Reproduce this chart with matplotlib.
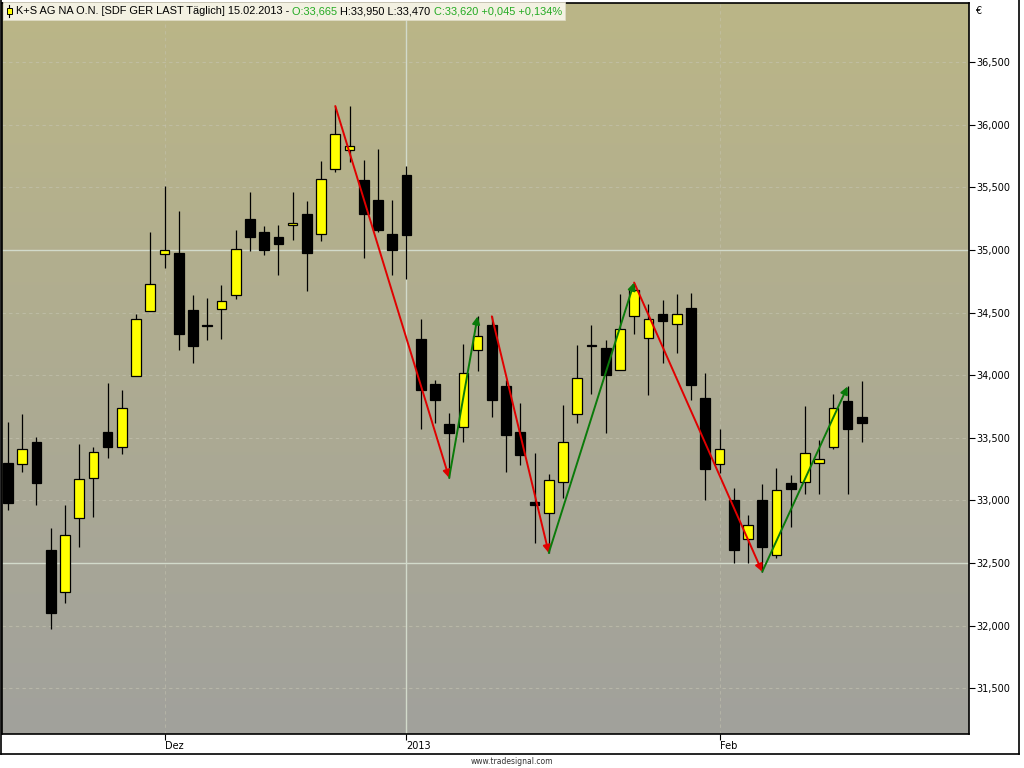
import numpy as np
import matplotlib.pyplot as plt
from matplotlib.patches import Rectangle
from matplotlib.lines import Line2D

# daily candles, K+S AG, 16.11.2012 .. 15.02.2013
opens = [33.30, 33.29, 33.47, 32.60, 32.27, 32.86, 33.18, 33.55, 33.43, 33.99,
         34.51, 34.97, 34.98, 34.52, 34.40, 34.53, 34.64, 35.25, 35.14, 35.10,
         35.20, 35.29, 35.13, 35.65, 35.80, 35.56, 35.40, 35.13, 35.60, 34.29,
         33.93, 33.61, 33.59, 34.20, 34.40, 33.91, 33.55, 32.99, 32.90, 33.15,
         33.69, 34.24, 34.22, 34.04, 34.47, 34.30, 34.49, 34.41, 34.54, 33.82,
         33.29, 33.00, 32.69, 33.00, 32.56, 33.14, 33.15, 33.30, 33.43, 33.79,
         33.665]
highs = [33.63, 33.69, 33.51, 32.78, 32.96, 33.45, 33.43, 33.94, 33.88, 34.49,
         35.14, 35.51, 35.31, 34.64, 34.62, 34.72, 35.16, 35.46, 35.19, 35.20,
         35.46, 35.39, 35.71, 36.15, 36.15, 35.72, 35.81, 35.40, 35.67, 34.45,
         33.96, 33.70, 34.25, 34.47, 34.47, 33.96, 33.78, 33.38, 33.21, 33.76,
         34.24, 34.40, 34.28, 34.65, 34.74, 34.57, 34.60, 34.65, 34.66, 34.02,
         33.57, 33.10, 32.88, 33.13, 33.26, 33.20, 33.75, 33.48, 33.85, 33.91,
         33.95]
lows = [32.92, 33.23, 32.96, 31.97, 32.18, 32.63, 32.87, 33.34, 33.37, 33.99,
        34.51, 34.86, 34.20, 34.10, 34.28, 34.29, 34.61, 34.99, 34.96, 34.80,
        35.08, 34.67, 35.07, 35.62, 35.70, 34.94, 35.14, 34.80, 34.77, 33.57,
        33.62, 33.18, 33.47, 34.03, 33.67, 33.23, 33.28, 32.66, 32.58, 33.02,
        33.62, 33.85, 33.54, 34.04, 34.33, 33.84, 34.10, 34.18, 33.80, 33.00,
        33.22, 32.50, 32.50, 32.43, 32.54, 32.79, 33.05, 33.05, 33.41, 33.05,
        33.47]
closes = [32.98, 33.41, 33.14, 32.10, 32.72, 33.17, 33.39, 33.43, 33.74, 34.45,
          34.73, 35.00, 34.33, 34.23, 34.39, 34.59, 35.01, 35.10, 35.00, 35.05,
          35.20, 34.98, 35.57, 35.93, 35.83, 35.29, 35.16, 35.00, 35.12, 33.88,
          33.80, 33.54, 34.02, 34.31, 33.80, 33.52, 33.36, 32.96, 33.16, 33.47,
          33.98, 34.23, 34.00, 34.37, 34.68, 34.45, 34.43, 34.49, 33.92, 33.25,
          33.41, 32.60, 32.80, 32.63, 33.08, 33.09, 33.38, 33.33, 33.74, 33.57,
          33.62]

# zigzag arrows: (from bar, to bar), red = down, green = up
down_legs = [(23, 31), (34, 38), (44, 53)]
up_legs = [(31, 33), (38, 44), (53, 59)]

tick_idx = [11, 28, 50]
tick_labels = ['Dez', '2013', 'Feb']
price_ticks = [31.5, 32.0, 32.5, 33.0, 33.5, 34.0, 34.5, 35.0, 35.5, 36.0, 36.5]

W, H = 1024, 768
fig = plt.figure(figsize=(W / 100, H / 100), dpi=100, facecolor='white')
ax = fig.add_axes([2 / W, 1 - 734 / H, 967 / W, 731 / H])

# gradient background
grad = np.linspace(0, 1, 256).reshape(-1, 1)
top = np.array([187, 182, 135]) / 255
bot = np.array([161, 161, 156]) / 255
img = top + (bot - top) * grad[..., None]
ax.imshow(img, extent=[0, 1, 0, 1], transform=ax.transAxes, aspect='auto', zorder=0)

n = len(opens)
ax.set_xlim(-0.42, 67.53)
ax.set_ylim(31.134, 36.973)

# grid
for p in price_ticks:
    if p in (35.0, 32.5):
        ax.axhline(p, color='#d2dacb', lw=1, zorder=1)
    else:
        ax.axhline(p, color='#c6c5b2', lw=0.8, ls=(0, (3, 3)), zorder=1, alpha=0.6)
for i, lab in zip(tick_idx, tick_labels):
    if lab == '2013':
        ax.axvline(i, color='#d2dacb', lw=1, zorder=1)
    else:
        ax.axvline(i, color='#c6c5b2', lw=0.8, ls=(0, (3, 3)), zorder=1, alpha=0.5)

# candles
w = 0.68
for i in range(n):
    o, h, l, c = opens[i], highs[i], lows[i], closes[i]
    up = c >= o
    ax.vlines(i, l, h, color='black', lw=0.9, zorder=3)
    lo_b = min(o, c)
    hb = max(abs(c - o), 0.012)
    ax.add_patch(Rectangle((i - w / 2, lo_b), w, hb,
                           facecolor='#ffff00' if up else 'black',
                           edgecolor='black', lw=0.9, zorder=4))

# zigzag arrows
def leg(a, b, col, start_high):
    y0 = highs[a] if start_high else lows[a]
    y1 = lows[b] if start_high else highs[b]
    ax.annotate('', xy=(b, y1), xytext=(a, y0),
                arrowprops=dict(arrowstyle='-|>', color=col, lw=1.4,
                                mutation_scale=11, shrinkA=0, shrinkB=0),
                zorder=5)

for a, b in down_legs:
    leg(a, b, '#e00000', True)
for a, b in up_legs:
    leg(a, b, '#0a7a0a', False)

# axes styling
for s in ax.spines.values():
    s.set_color('black')
    s.set_linewidth(1.2)
ax.yaxis.tick_right()
ax.set_yticks(price_ticks)
ax.set_yticklabels([('%.3f' % p).replace('.', ',') for p in price_ticks])
ax.tick_params(axis='y', direction='out', length=4, width=0.8, pad=1, labelsize=7)
ax.set_xticks(tick_idx)
ax.set_xticklabels(tick_labels)
ax.tick_params(axis='x', direction='out', length=4, width=0.8, pad=1, labelsize=7)
for t in ax.get_xticklabels():
    t.set_horizontalalignment('left')

fig.text(975 / W, 1 - 11 / H, '€', fontsize=7, va='center', ha='left')

# outer frame
fig.add_artist(Line2D([1 / W, 1 / W], [1, 1 - 754 / H], color='black', lw=1.2))
fig.add_artist(Line2D([1 / W, 1019 / W], [1 - 754 / H, 1 - 754 / H], color='black', lw=1.2))
fig.add_artist(Line2D([1019 / W, 1019 / W], [1, 1 - 754 / H], color='black', lw=1.2))

fig.text(0.5, 1 - 761 / H, 'www.tradesignal.com', fontsize=5.5, ha='center', va='center',
         color='#333333')

# header
parts = [('K+S AG NA O.N. [SDF GER LAST Täglich] 15.02.2013 - ', 'black'),
         ('O:33,665 ', '#22aa22'),
         ('H:33,950 L:33,470 ', 'black'),
         ('C:33,620 +0,045 +0,134%', '#22aa22')]
hfont = 'Liberation Sans'
fig.canvas.draw()
r = fig.canvas.get_renderer()
fs = 7.5
tmp = fig.text(0, 0, ''.join(p for p, _ in parts), fontsize=fs, family=hfont)
tw = tmp.get_window_extent(r).width
tmp.remove()
fs = fs * 544 / tw
px = 16
for s, col in parts:
    t = fig.text(px / W, 1 - 11 / H, s, color=col, fontsize=fs, family=hfont,
                 va='center', ha='left', zorder=6)
    bb = t.get_window_extent(r)
    px = bb.x1
fig.add_artist(Rectangle((3 / W, 1 - 20 / H), px / W, 18 / H, transform=fig.transFigure,
                         facecolor='#f3f1e2', edgecolor='#e0ddc8', lw=0.5, zorder=5))
# legend icon
fig.add_artist(Line2D([9 / W, 9 / W], [1 - 5 / H, 1 - 17 / H], color='black', lw=0.8, zorder=6))
fig.add_artist(Rectangle((6.5 / W, 1 - 14 / H), 5 / W, 6 / H, transform=fig.transFigure,
                         facecolor='#ffff00', edgecolor='black', lw=0.7, zorder=7))

fig.savefig('out.png', dpi=100, facecolor='white')
